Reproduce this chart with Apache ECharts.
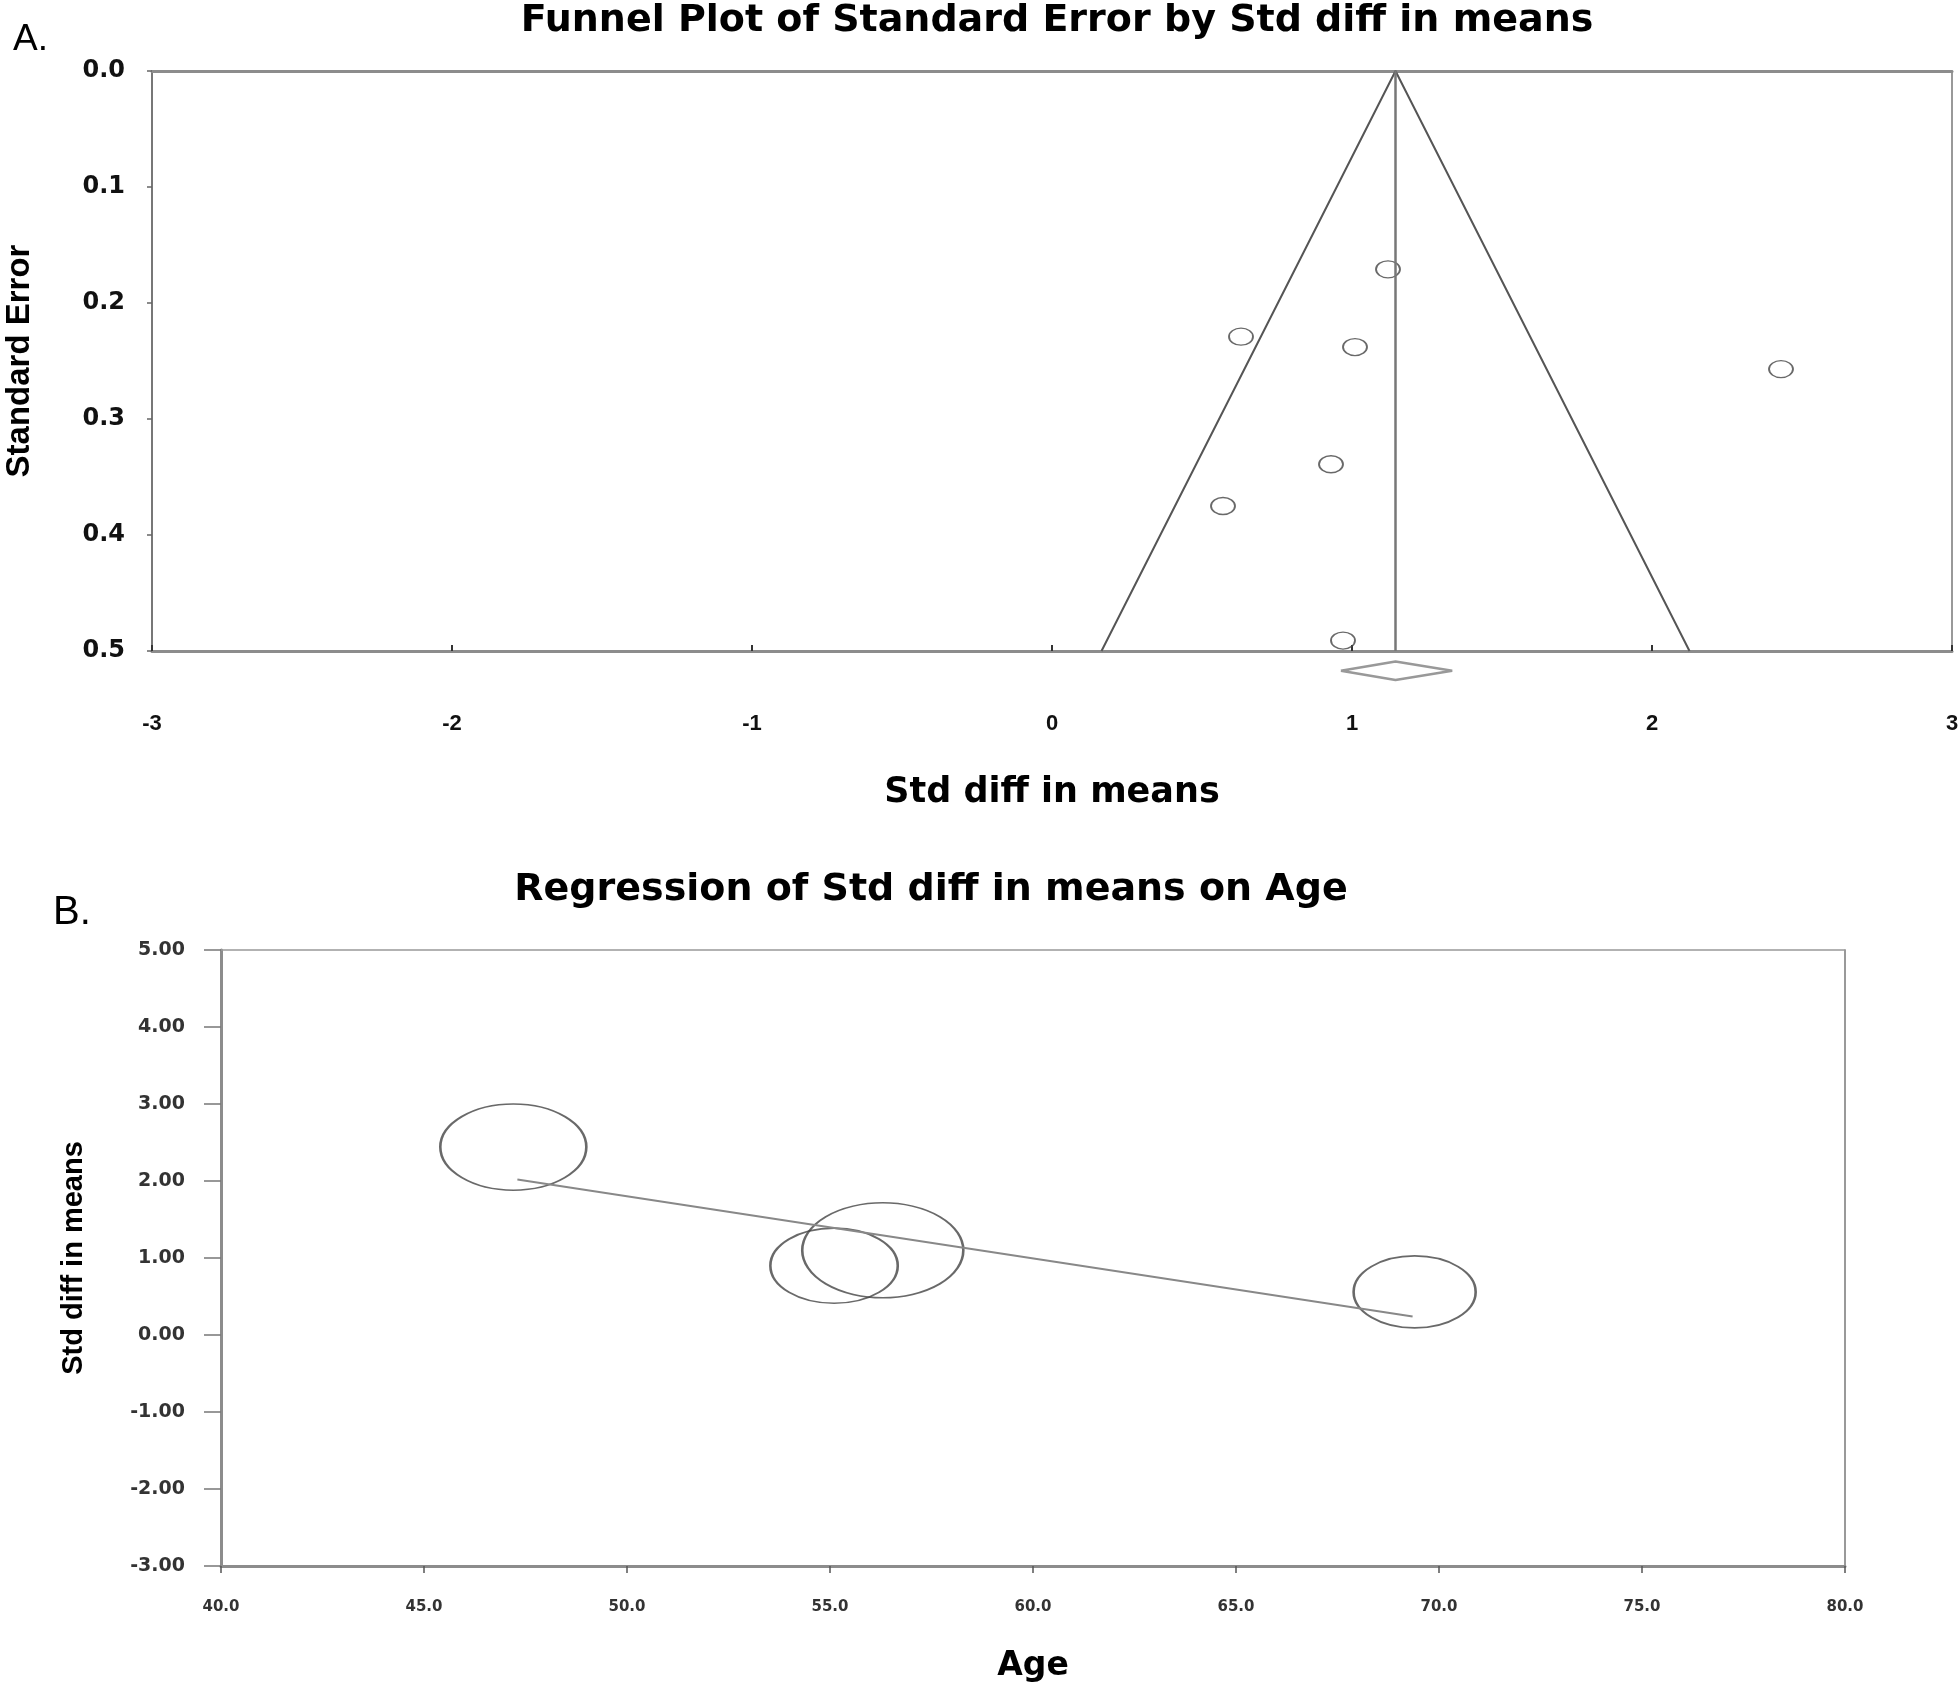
<!DOCTYPE html>
<html>
<head>
<meta charset="utf-8">
<title>Funnel plot and meta-regression</title>
<script src="https://cdn.jsdelivr.net/npm/echarts@6/dist/echarts.min.js"></script>
<style>
  html, body { margin: 0; padding: 0; background: #fff; }
  #chart { width: 1959px; height: 1684px; }
</style>
</head>
<body>
<div id="chart"></div>
<script>
  // ---- A. funnel plot data ----
  const studyEffect = [1.12, 0.63, 1.01, 2.43, 0.93, 0.57, 0.97];
  const studySE = [0.171, 0.229, 0.238, 0.257, 0.339, 0.375, 0.491];
  // pooled estimate and 95% limits at the funnel base
  const funnelX = [0.165, 1.145, 2.125];
  const funnelSE = [0.5, 0, 0.5];
  const pooledX = [1.145, 1.145];
  const pooledSE = [0, 0.5];
  // summary diamond drawn under the axis
  const diamondX = [0.963, 1.145, 1.334, 1.145, 0.963];
  const diamondSE = [0.517, 0.509, 0.517, 0.525, 0.517];
  const funnelXTicks = [-3, -2, -1, 0, 1, 2, 3];

  // ---- B. regression on age ----
  const studyAge = [47.2, 55.1, 56.3, 69.4];
  const studyDiff = [2.44, 0.90, 1.10, 0.56];
  const studyWeight = [27.2, 20.7, 33.1, 19.0];
  const regAge = [47.3, 69.35];
  const regDiff = [2.02, 0.24];

  const zip = (a, b) => a.map((v, i) => [v, b[i]]);

  const boldFont = 'DejaVu Sans';
  const armFont = 'Liberation Sans';
  const frame = '#8c8c8c';

  const chart = echarts.init(document.getElementById('chart'), null, { renderer: 'canvas' });

  const option = {
    backgroundColor: '#fff',
    animation: false,
    title: [
      {
        text: 'Funnel Plot of Standard Error by Std diff in means',
        left: 1052, top: -3, textAlign: 'center',
        textStyle: { fontFamily: boldFont, fontWeight: 'bold', fontSize: 38, color: '#000' },
      },
      {
        text: 'A.',
        left: 8, top: 16,
        textStyle: { fontFamily: armFont, fontWeight: 'normal', fontSize: 37, color: '#000' },
      },
      {
        text: 'Regression of Std diff in means on Age',
        left: 926, top: 866, textAlign: 'center',
        textStyle: { fontFamily: boldFont, fontWeight: 'bold', fontSize: 38, color: '#000' },
      },
      {
        text: 'B.',
        left: 48, top: 888,
        textStyle: { fontFamily: armFont, fontWeight: 'normal', fontSize: 40, color: '#000' },
      },
    ],
    // fixed plot boxes, no auto shrinking for labels
    grid: [
      { left: 152, top: 71, width: 1800, height: 580, outerBoundsMode: 'none', containLabel: false },
      { left: 221, top: 950, width: 1624, height: 616, outerBoundsMode: 'none', containLabel: false },
    ],
    xAxis: [
      {
        gridIndex: 0, type: 'value', min: -3, max: 3, interval: 1, position: 'bottom',
        name: 'Std diff in means', nameLocation: 'middle', nameGap: 124,
        nameTextStyle: { fontFamily: boldFont, fontWeight: 'bold', fontSize: 35, color: '#000' },
        axisLine: { onZero: false, lineStyle: { color: frame, width: 3 } },
        axisTick: { inside: true, length: 6, lineStyle: { color: '#333', width: 2 } },
        axisLabel: {
          margin: 62, fontFamily: armFont, fontWeight: 'bold', fontSize: 22, color: '#111',
          formatter: (v) => (funnelXTicks.indexOf(v) >= 0 ? String(v) : ''),
        },
        splitLine: { show: false },
      },
      {
        gridIndex: 0, type: 'value', min: -3, max: 3, position: 'top',
        axisLine: { onZero: false, lineStyle: { color: frame, width: 3 } },
        axisTick: { show: false }, axisLabel: { show: false }, splitLine: { show: false },
      },
      {
        gridIndex: 1, type: 'value', min: 40, max: 80, interval: 5, position: 'bottom',
        name: 'Age', nameLocation: 'middle', nameGap: 84,
        nameTextStyle: { fontFamily: boldFont, fontWeight: 'bold', fontSize: 33, color: '#000' },
        axisLine: { onZero: false, lineStyle: { color: frame, width: 3 } },
        axisTick: { length: 7, lineStyle: { color: '#555', width: 1.5 } },
        axisLabel: {
          margin: 34, fontFamily: boldFont, fontWeight: 'bold', fontSize: 15, color: '#333',
          formatter: (v) => v.toFixed(1),
        },
        splitLine: { show: false },
      },
      {
        gridIndex: 1, type: 'value', min: 40, max: 80, position: 'top',
        axisLine: { onZero: false, lineStyle: { color: '#999', width: 1.5 } },
        axisTick: { show: false }, axisLabel: { show: false }, splitLine: { show: false },
      },
    ],
    yAxis: [
      {
        gridIndex: 0, type: 'value', min: 0, max: 0.5, interval: 0.1, inverse: true,
        name: 'Standard Error', nameLocation: 'middle', nameGap: 116, nameRotate: 90,
        nameTextStyle: { fontFamily: armFont, fontWeight: 'bold', fontSize: 33, color: '#000' },
        axisLine: { onZero: false, lineStyle: { color: '#777', width: 2 } },
        axisTick: { length: 5, lineStyle: { color: '#666', width: 1.5 } },
        axisLabel: {
          margin: 27, fontFamily: boldFont, fontWeight: 'bold', fontSize: 24, color: '#111',
          formatter: (v) => v.toFixed(1),
        },
        splitLine: { show: false },
      },
      {
        gridIndex: 0, type: 'value', min: 0, max: 0.5, inverse: true, position: 'right',
        axisLine: { show: true, onZero: false, lineStyle: { color: '#777', width: 1.5 } },
        axisTick: { show: false }, axisLabel: { show: false }, splitLine: { show: false },
      },
      {
        gridIndex: 1, type: 'value', min: -3, max: 5, interval: 1,
        name: 'Std diff in means', nameLocation: 'middle', nameGap: 133, nameRotate: 90,
        nameTextStyle: { fontFamily: armFont, fontWeight: 'bold', fontSize: 29, color: '#000' },
        axisLine: { onZero: false, lineStyle: { color: frame, width: 3 } },
        axisTick: { length: 17, lineStyle: { color: '#777', width: 1.5 } },
        axisLabel: {
          margin: 36, fontFamily: boldFont, fontWeight: 'bold', fontSize: 19, color: '#333',
          formatter: (v) => v.toFixed(2),
        },
        splitLine: { show: false },
      },
      {
        gridIndex: 1, type: 'value', min: -3, max: 5, position: 'right',
        axisLine: { show: true, onZero: false, lineStyle: { color: '#777', width: 1.5 } },
        axisTick: { show: false }, axisLabel: { show: false }, splitLine: { show: false },
      },
    ],
    series: [
      {
        // funnel limits
        type: 'line', xAxisIndex: 0, yAxisIndex: 0,
        data: zip(funnelX, funnelSE), symbol: 'none',
        lineStyle: { color: '#555', width: 2 },
      },
      {
        // pooled effect
        type: 'line', xAxisIndex: 0, yAxisIndex: 0,
        data: zip(pooledX, pooledSE), symbol: 'none',
        lineStyle: { color: '#777', width: 2.5 },
      },
      {
        // summary diamond
        type: 'line', xAxisIndex: 0, yAxisIndex: 0, clip: false,
        data: zip(diamondX, diamondSE), symbol: 'none',
        lineStyle: { color: '#999', width: 2.5 },
      },
      {
        type: 'scatter', xAxisIndex: 0, yAxisIndex: 0,
        data: zip(studyEffect, studySE), symbol: 'circle', symbolSize: [24, 17],
        itemStyle: { color: 'rgba(0,0,0,0)', borderColor: '#444', borderWidth: 1.6 },
      },
      {
        // meta-regression line
        type: 'line', xAxisIndex: 2, yAxisIndex: 2,
        data: zip(regAge, regDiff), symbol: 'none',
        lineStyle: { color: '#888', width: 2 },
      },
      {
        type: 'scatter', xAxisIndex: 2, yAxisIndex: 2,
        data: studyAge.map((a, i) => [a, studyDiff[i], studyWeight[i]]),
        symbol: 'circle',
        symbolSize: (d) => {
          const w = 28 * Math.sqrt(d[2]);
          return [w, w * 0.59];
        },
        itemStyle: { color: 'rgba(0,0,0,0)', borderColor: '#444', borderWidth: 2 },
      },
    ],
  };

  chart.setOption(option);
  window.addEventListener('resize', () => chart.resize());
</script>
</body>
</html>
